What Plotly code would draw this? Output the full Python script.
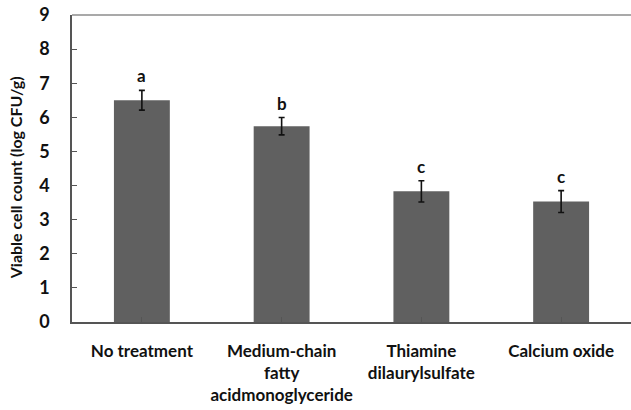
import plotly.graph_objects as go

# Viable cell counts after each treatment (log CFU/g)
categories = ["No treatment",
              "Medium-chain<br>fatty<br>acidmonoglyceride",
              "Thiamine<br>dilaurylsulfate",
              "Calcium oxide"]
values = [6.5, 5.74, 3.83, 3.53]
errors = [0.29, 0.255, 0.31, 0.32]
letters = ["a", "b", "c", "c"]
y_ticks = list(range(0, 10))
y_title = "Viable cell count (log CFU/g)"

FONT = "Lato"
AXIS = "#555555"
INK = "#111111"

fig = go.Figure()
fig.add_trace(go.Bar(
    x=list(range(len(categories))),
    y=values,
    width=0.4,
    marker=dict(color="#606060", line=dict(width=0)),
    error_y=dict(type="data", array=errors, visible=True,
                 color=INK, thickness=1.6, width=3),
))

# Significance letters above each error bar
for i, (v, e, t) in enumerate(zip(values, errors, letters)):
    fig.add_annotation(x=i, y=v + e, text=t, showarrow=False,
                       yanchor="bottom", yshift=2,
                       font=dict(family=FONT, size=17, color=INK, weight="bold"))

# Vertical axis title
fig.add_annotation(xref="paper", yref="paper", x=-0.101, y=0.47,
                   xanchor="center", yanchor="middle", textangle=-90,
                   text=y_title, showarrow=False,
                   font=dict(family=FONT, size=16, color=INK, weight="bold"))

# Top border of the plot frame
fig.add_shape(type="line", xref="paper", yref="paper", x0=0, x1=1, y0=1, y1=1,
              line=dict(color="#8c8c8c", width=1.5))

fig.update_layout(
    width=631, height=410,
    margin=dict(l=72, r=0, t=15, b=88),
    paper_bgcolor="white", plot_bgcolor="white",
    showlegend=False,
    xaxis=dict(
        range=[-0.5, 3.5],
        tickvals=list(range(len(categories))),
        ticktext=categories,
        tickson="boundaries",
        ticks="inside", ticklen=5, tickcolor=AXIS, tickwidth=1,
        showline=True, linecolor=AXIS, linewidth=1.5,
        showgrid=False, zeroline=False,
        tickfont=dict(family=FONT, size=17, color=INK, weight="bold"),
        ticklabelstandoff=13,
    ),
    yaxis=dict(
        range=[0, 9],
        tickvals=y_ticks,
        ticks="inside", ticklen=5, tickcolor=AXIS, tickwidth=1,
        showline=True, linecolor=AXIS, linewidth=1.5,
        showgrid=False, zeroline=False,
        tickfont=dict(family=FONT, size=18, color=INK, weight="bold"),
        ticklabelstandoff=17,
    ),
)

fig.write_html("out.html")
